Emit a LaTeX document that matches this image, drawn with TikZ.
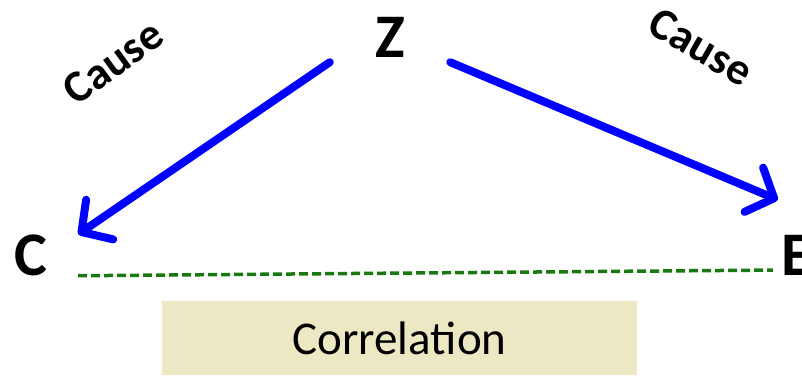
\documentclass[tikz,border=0pt]{standalone}
\usepackage{fontspec}
\setmainfont{Carlito}
\usepackage{xcolor}
\usetikzlibrary{arrows.meta, positioning, calc}
\definecolor{corrfill}{RGB}{237,232,196}
\definecolor{corrgreen}{RGB}{25,120,15}

\begin{document}
\begin{tikzpicture}[x=1pt,y=-1pt,
    letter/.style={font=\fontsize{62}{66}\selectfont\bfseries,inner sep=0pt},
    causelbl/.style={font=\fontsize{45}{48}\selectfont\bfseries,inner sep=0pt},
    arr/.style={draw=blue,line width=8pt,line cap=round,
                -{Straight Barb[length=22pt,width=48pt,round]}},
    corr/.style={draw=corrgreen,line width=3.5pt,dash pattern=on 9pt off 4pt},
    corrbox/.style={fill=corrfill,minimum width=475pt,minimum height=74pt,
                    inner sep=0pt,font=\fontsize{47}{50}\selectfont}
  ]
    \useasboundingbox (0,0) rectangle (802,375);

    \node[letter,minimum width=120pt,minimum height=50pt] (Z) at (390,37) {Z};
    \node[letter,minimum width=94pt,minimum height=38pt]  (C) at (31,255) {C};
    \node[letter,minimum width=32pt,minimum height=110pt] (E) at (797,255) {E};

    \node[causelbl,rotate=36]  (causeL) at (113,62) {Cause};
    \node[causelbl,rotate=-30] (causeR) at (701,47) {Cause};

    \node[corrbox] (corrtxt) at (399.5,338) {Correlation};

    \draw[arr] (Z.south west) -- (C.north east);
    \draw[arr] (Z.south east) -- ([xshift=-3pt]E.north west);
    \draw[corr,shorten >=8pt] (C.south east) -- ([yshift=-15pt]E.west);
\end{tikzpicture}
\end{document}
